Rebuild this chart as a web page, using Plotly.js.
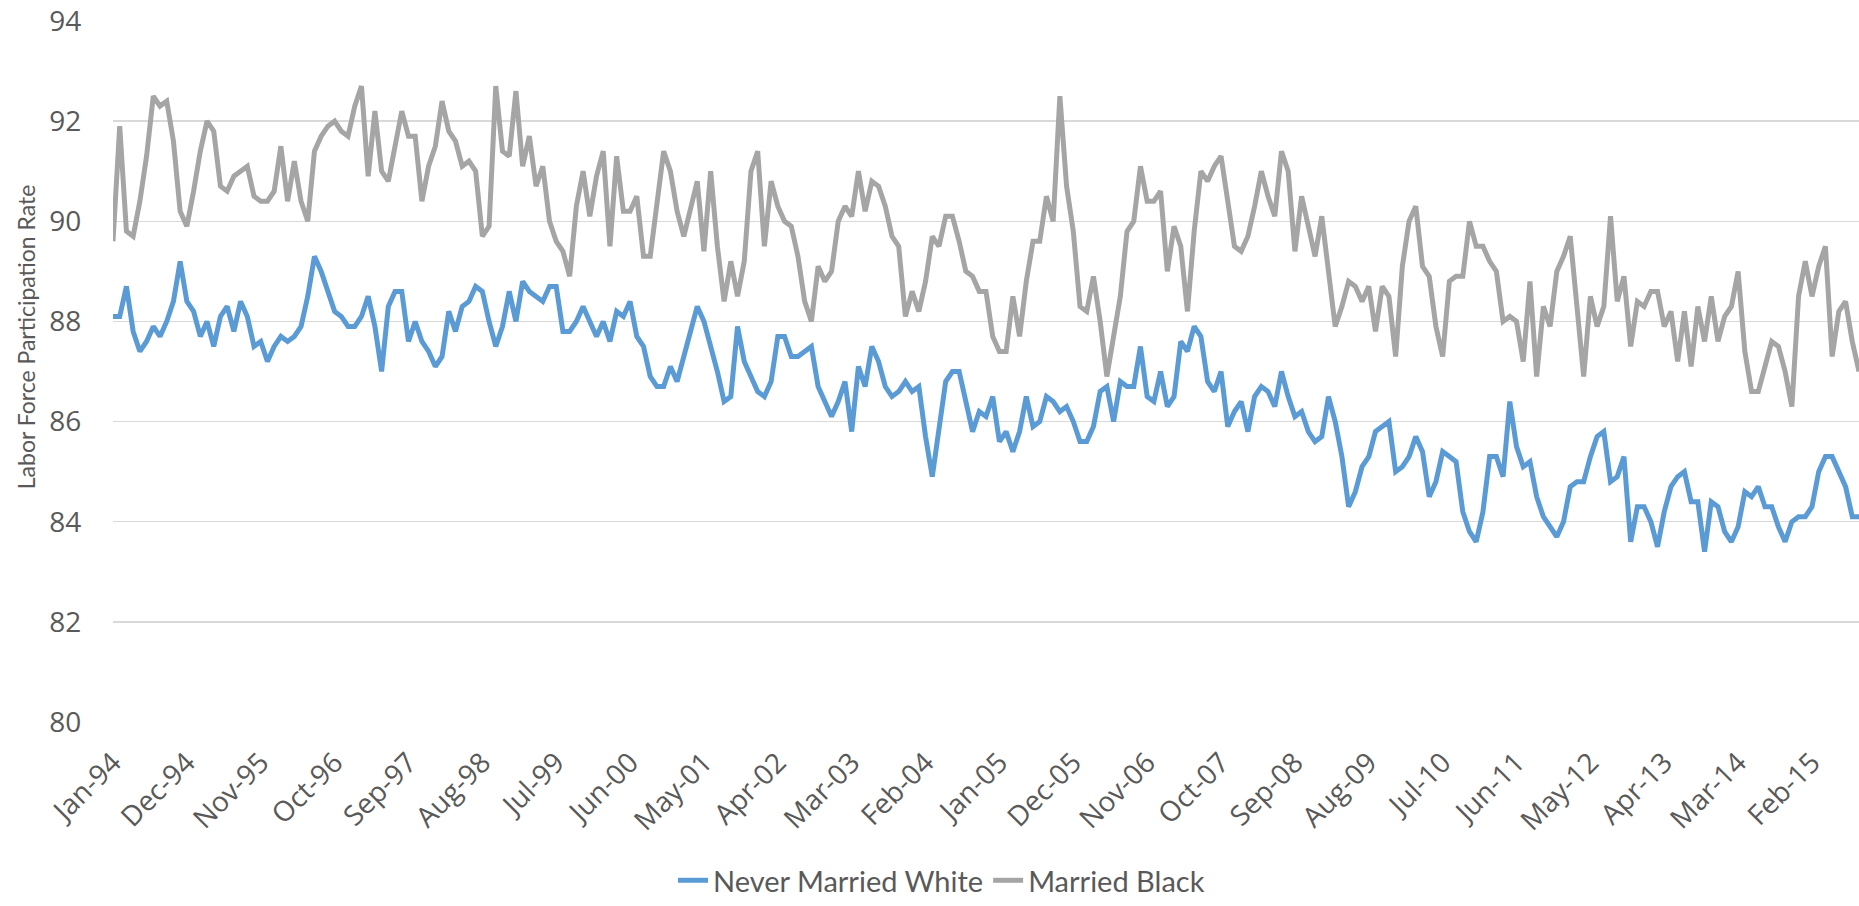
<!DOCTYPE html>
<html>
<head>
<meta charset="utf-8">
<script src="https://cdn.plot.ly/plotly-3.0.1.min.js"></script>
<style>
  html, body { margin: 0; padding: 0; background: #ffffff; }
  #chart { width: 1859px; height: 906px; }
</style>
</head>
<body>
<div id="chart"></div>
<script>
// Monthly categories: Jan-94 through Sep-15
const monthNames = ["Jan","Feb","Mar","Apr","May","Jun","Jul","Aug","Sep","Oct","Nov","Dec"];
const startYear = 1994;
const monthCount = 261;

const tickLabels = ["Jan-94","Dec-94","Nov-95","Oct-96","Sep-97","Aug-98","Jul-99","Jun-00",
  "May-01","Apr-02","Mar-03","Feb-04","Jan-05","Dec-05","Nov-06","Oct-07","Sep-08","Aug-09",
  "Jul-10","Jun-11","May-12","Apr-13","Mar-14","Feb-15"];

const yAxisTitle = "Labor Force Participation Rate";

const neverMarriedWhite = [
  88.1,88.1,88.7,87.8,87.4,87.6,87.9,87.7,88.0,88.4,89.2,88.4,
  88.2,87.7,88.0,87.5,88.1,88.3,87.8,88.4,88.1,87.5,87.6,87.2,
  87.5,87.7,87.6,87.7,87.9,88.5,89.3,89.0,88.6,88.2,88.1,87.9,
  87.9,88.1,88.5,87.9,87.0,88.3,88.6,88.6,87.6,88.0,87.6,87.4,
  87.1,87.3,88.2,87.8,88.3,88.4,88.7,88.6,88.0,87.5,87.9,88.6,
  88.0,88.8,88.6,88.5,88.4,88.7,88.7,87.8,87.8,88.0,88.3,88.0,
  87.7,88.0,87.6,88.2,88.1,88.4,87.7,87.5,86.9,86.7,86.7,87.1,
  86.8,87.3,87.8,88.3,88.0,87.5,87.0,86.4,86.5,87.9,87.2,86.9,
  86.6,86.5,86.8,87.7,87.7,87.3,87.3,87.4,87.5,86.7,86.4,86.1,
  86.4,86.8,85.8,87.1,86.7,87.5,87.2,86.7,86.5,86.6,86.8,86.6,
  86.7,85.7,84.9,85.8,86.8,87.0,87.0,86.4,85.8,86.2,86.1,86.5,
  85.6,85.8,85.4,85.8,86.5,85.9,86.0,86.5,86.4,86.2,86.3,86.0,
  85.6,85.6,85.9,86.6,86.7,86.0,86.8,86.7,86.7,87.5,86.5,86.4,
  87.0,86.3,86.5,87.6,87.4,87.9,87.7,86.8,86.6,87.0,85.9,86.2,
  86.4,85.8,86.5,86.7,86.6,86.3,87.0,86.5,86.1,86.2,85.8,85.6,
  85.7,86.5,86.0,85.3,84.3,84.6,85.1,85.3,85.8,85.9,86.0,85.0,
  85.1,85.3,85.7,85.4,84.5,84.8,85.4,85.3,85.2,84.2,83.8,83.6,
  84.2,85.3,85.3,84.9,86.4,85.5,85.1,85.2,84.5,84.1,83.9,83.7,
  84.0,84.7,84.8,84.8,85.3,85.7,85.8,84.8,84.9,85.3,83.6,84.3,
  84.3,84.0,83.5,84.2,84.7,84.9,85.0,84.4,84.4,83.4,84.4,84.3,
  83.8,83.6,83.9,84.6,84.5,84.7,84.3,84.3,83.9,83.6,84.0,84.1,
  84.1,84.3,85.0,85.3,85.3,85.0,84.7,84.1,84.1
];

const marriedBlack = [
  89.6,91.9,89.8,89.7,90.4,91.3,92.5,92.3,92.4,91.6,90.2,89.9,
  90.6,91.4,92.0,91.8,90.7,90.6,90.9,91.0,91.1,90.5,90.4,90.4,
  90.6,91.5,90.4,91.2,90.4,90.0,91.4,91.7,91.9,92.0,91.8,91.7,
  92.3,92.7,90.9,92.2,91.0,90.8,91.5,92.2,91.7,91.7,90.4,91.1,
  91.5,92.4,91.8,91.6,91.1,91.2,91.0,89.7,89.9,92.7,91.4,91.3,
  92.6,91.1,91.7,90.7,91.1,90.0,89.6,89.4,88.9,90.3,91.0,90.1,
  90.9,91.4,89.5,91.3,90.2,90.2,90.5,89.3,89.3,90.3,91.4,91.0,
  90.2,89.7,90.3,90.8,89.4,91.0,89.5,88.4,89.2,88.5,89.2,91.0,
  91.4,89.5,90.8,90.3,90.0,89.9,89.3,88.4,88.0,89.1,88.8,89.0,
  90.0,90.3,90.1,91.0,90.2,90.8,90.7,90.3,89.7,89.5,88.1,88.6,
  88.2,88.8,89.7,89.5,90.1,90.1,89.6,89.0,88.9,88.6,88.6,87.7,
  87.4,87.4,88.5,87.7,88.8,89.6,89.6,90.5,90.0,92.5,90.7,89.8,
  88.3,88.2,88.9,88.0,86.9,87.7,88.5,89.8,90.0,91.1,90.4,90.4,
  90.6,89.0,89.9,89.5,88.2,89.8,91.0,90.8,91.1,91.3,90.4,89.5,
  89.4,89.7,90.3,91.0,90.5,90.1,91.4,91.0,89.4,90.5,89.9,89.3,
  90.1,89.0,87.9,88.3,88.8,88.7,88.4,88.7,87.8,88.7,88.5,87.3,
  89.1,90.0,90.3,89.1,88.9,87.9,87.3,88.8,88.9,88.9,90.0,89.5,
  89.5,89.2,89.0,88.0,88.1,88.0,87.2,88.8,86.9,88.3,87.9,89.0,
  89.3,89.7,88.3,86.9,88.5,87.9,88.3,90.1,88.4,88.9,87.5,88.4,
  88.3,88.6,88.6,87.9,88.2,87.2,88.2,87.1,88.3,87.6,88.5,87.6,
  88.1,88.3,89.0,87.4,86.6,86.6,87.1,87.6,87.5,87.0,86.3,88.5,
  89.2,88.5,89.1,89.5,87.3,88.2,88.4,87.6,87.0
];

const categories = [];
for (let i = 0; i < monthCount; i++) {
  const yr = (startYear + Math.floor(i / 12)) % 100;
  categories.push(monthNames[i % 12] + "-" + String(yr).padStart(2, "0"));
}

const tickFont = { family: "Open Sans, DejaVu Sans, sans-serif", size: 28, color: "#595959" };
const labelFont = { family: "Lato, Open Sans, sans-serif", size: 23, color: "#595959" };

const traces = [
  {
    x: categories, y: neverMarriedWhite, type: "scatter", mode: "lines",
    name: "Never Married White",
    line: { color: "#5B9BD5", width: 5 },
    hoverinfo: "skip"
  },
  {
    x: categories, y: marriedBlack, type: "scatter", mode: "lines",
    name: "Married Black",
    line: { color: "#A5A5A5", width: 5 },
    hoverinfo: "skip"
  }
];

const layout = {
  width: 1859, height: 906,
  margin: { l: 113, r: 0, t: 21, b: 177, pad: 0 },
  paper_bgcolor: "#ffffff", plot_bgcolor: "#ffffff",
  showlegend: true,
  legend: {
    orientation: "h", x: 0.4745, xanchor: "center", y: -0.226, yanchor: "middle",
    font: { family: "Lato, Open Sans, sans-serif", size: 29, color: "#595959" },
    bgcolor: "rgba(0,0,0,0)"
  },
  xaxis: {
    type: "category",
    categoryorder: "array", categoryarray: categories,
    range: [0, monthCount - 1],
    tickmode: "array", tickvals: tickLabels, ticktext: tickLabels,
    tickangle: -45,
    tickfont: tickFont,
    ticks: "outside", ticklen: 12, tickcolor: "rgba(0,0,0,0)",
    showgrid: false, zeroline: false, showline: false,
    automargin: false, fixedrange: true
  },
  yaxis: {
    range: [80, 94], dtick: 2, tick0: 80,
    tickfont: tickFont,
    ticks: "outside", ticklen: 25, tickcolor: "rgba(0,0,0,0)",
    showgrid: true, gridcolor: "#D9D9D9", gridwidth: 1.3,
    zeroline: false, showline: false,
    automargin: false, fixedrange: true
  },
  annotations: [
    {
      text: yAxisTitle, textangle: -90,
      xref: "paper", yref: "paper",
      x: -0.0498, y: 0.549, xanchor: "center", yanchor: "middle",
      showarrow: false, font: labelFont
    }
  ]
};

Plotly.newPlot("chart", traces, layout, { displayModeBar: false, staticPlot: true });
</script>
</body>
</html>
